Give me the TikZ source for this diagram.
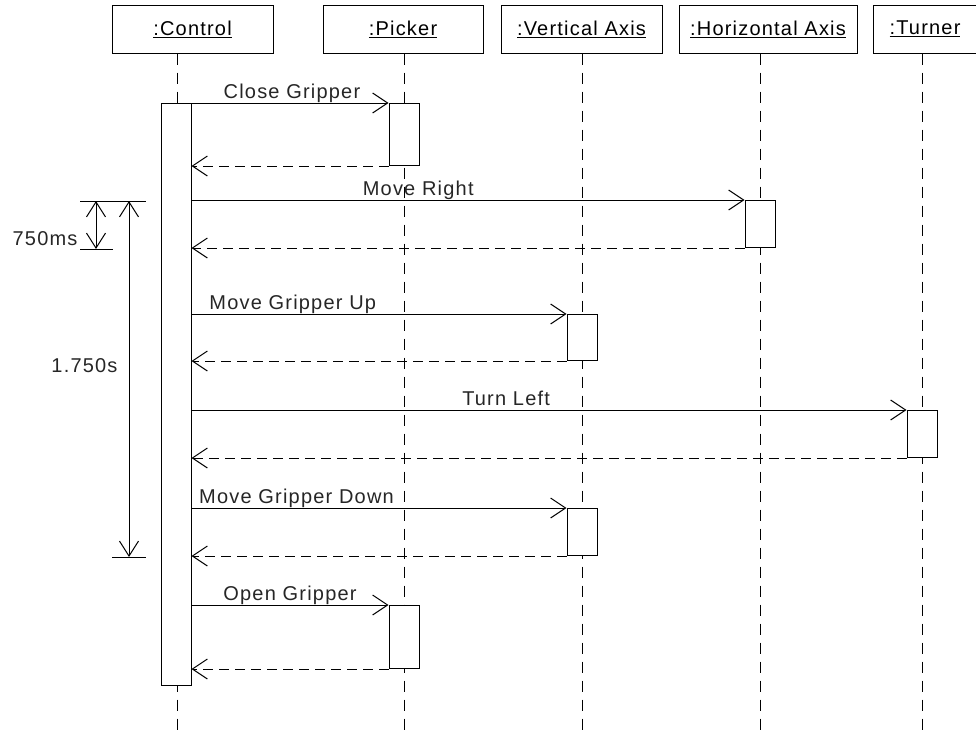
\documentclass[tikz,border=0pt]{standalone}
\usepackage{fontspec}
\setmainfont[LetterSpace=6]{Liberation Sans}
\usetikzlibrary{arrows.meta}

\begin{document}
\begin{tikzpicture}[
        x=1pt, y=-1pt,
        line width=1pt,
        font=\fontsize{20}{23}\selectfont,
        head/.style={draw, minimum height=48, inner sep=0pt},
        act/.style={draw, fill=white, minimum width=30, inner sep=0pt, anchor=north},
        life/.style={dash pattern=on 11pt off 8pt},
        msg/.style={-{Straight Barb[length=15pt,width=20pt]}},
        ret/.style={msg, dash pattern=on 10pt off 6pt},
        lbl/.style={anchor=base, inner sep=0pt, yshift=5pt, text=black!85},
        dim/.style={{Straight Barb[length=15pt,width=19pt]}-{Straight Barb[length=15pt,width=19pt]}},
    ]
    \useasboundingbox (0,0) rectangle (976,736);

    %====================== LIFELINES ======================
    \foreach \name/\x/\lx/\w/\txt in {ctl/192.5/177/161/Control, pick/403/404/160/Picker, vax/581.5/582/161/Vertical Axis, hax/768/760/178/Horizontal Axis, turn/925/922/104/Turner} {
        \node[head, minimum width=\w] (\name) at (\x,29) {\underline{:\txt}};
        \coordinate (\name-end) at (\lx,736);
        \draw[life] (\name.south -| \name-end) -- (\name-end);
    }

    %====================== ACTIVATIONS ======================
    \node[act, minimum height=582] (ctlact) at (176,103) {};
    \node[act, minimum height=62] (pick1) at (404,103) {};
    \node[act, minimum height=47] (hax1)  at (760,200) {};
    \node[act, minimum height=46] (vax1)  at (582,314) {};
    \node[act, minimum height=47] (turn1) at (922,410) {};
    \node[act, minimum height=47] (vax2)  at (582,508) {};
    \node[act, minimum height=63] (pick2) at (404,605) {};

    %====================== MESSAGES ======================
    \draw[msg] (ctlact.east |- pick1.north) -- node[lbl, pos=0.51] {Close Gripper} (pick1.north west);
    \draw[ret] (pick1.south west) -- (ctlact.east |- pick1.south);

    \draw[msg] (ctlact.east |- hax1.north) -- node[lbl, pos=0.41] {Move Right} (hax1.north west);
    \draw[ret] (hax1.south west) -- (ctlact.east |- hax1.south);

    \draw[msg] (ctlact.east |- vax1.north) -- node[lbl, pos=0.27] {Move Gripper Up} (vax1.north west);
    \draw[ret] (vax1.south west) -- (ctlact.east |- vax1.south);

    \draw[msg] (ctlact.east |- turn1.north) -- node[lbl, pos=0.44] {Turn Left} (turn1.north west);
    \draw[ret] (turn1.south west) -- (ctlact.east |- turn1.south);

    \draw[msg] (ctlact.east |- vax2.north) -- node[lbl, pos=0.28] {Move Gripper Down} (vax2.north west);
    \draw[ret] (vax2.south west) -- (ctlact.east |- vax2.south);

    \draw[msg] (ctlact.east |- pick2.north) -- node[lbl, pos=0.5] {Open Gripper} (pick2.north west);
    \draw[ret] (pick2.south west) -- (ctlact.east |- pick2.south);

    %====================== TIMING ======================
    \coordinate (t-top-l) at (80,201);
    \coordinate (t-top-r) at (146,201);
    \coordinate (t-ms-l)  at (80,249);
    \coordinate (t-ms-r)  at (113,249);
    \coordinate (t-s-l)   at (112,557);
    \coordinate (t-s-r)   at (146,557);
    \draw (t-top-l) -- (t-top-r);
    \draw (t-ms-l) -- (t-ms-r);
    \draw (t-s-l) -- (t-s-r);
    \draw[dim] (96,201) -- (96,249);
    \draw[dim] (129,201) -- (129,557);
    \node[anchor=base east, inner sep=0pt, text=black!85] (ms) at (78,245) {750ms};
    \node[anchor=base east, inner sep=0pt, text=black!85] (sec) at (118,372) {1.750s};

\end{tikzpicture}
\end{document}
